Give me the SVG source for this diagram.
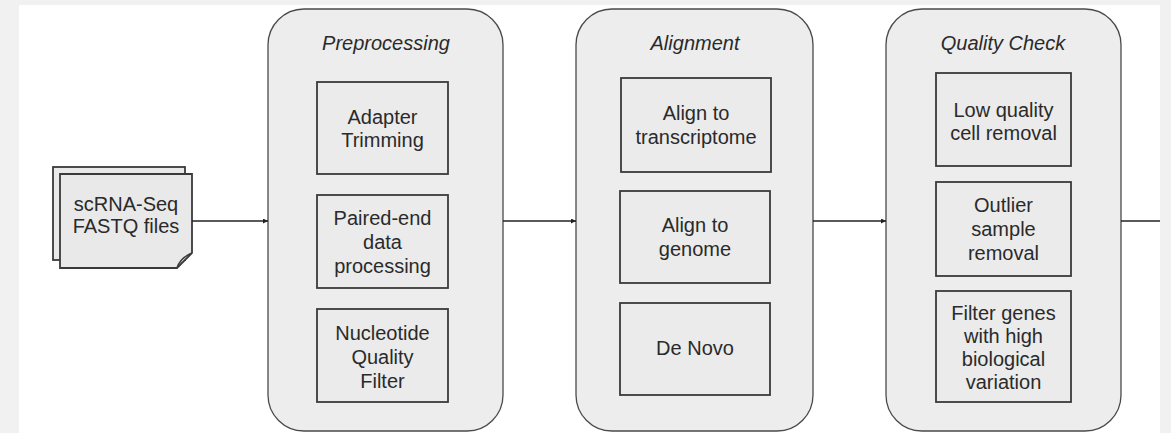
<svg xmlns="http://www.w3.org/2000/svg" width="1171" height="433" viewBox="0 0 1171 433">
<style>
.bg{fill:#f1f1f1}
.panel{fill:#ffffff}
.stage{fill:#ededed;stroke:#4a4a4a;stroke-width:1.3}
.step{fill:#ebebeb;stroke:#3a3a3a;stroke-width:1.8}
.doc{fill:#e9e9e9;stroke:#3a3a3a;stroke-width:1.8}
.t{font-family:"Liberation Sans",Arial,sans-serif;font-size:20px;fill:#2a2a2a;text-anchor:middle}
.title{font-style:italic}
.conn{stroke:#222;stroke-width:1.3;fill:none;marker-end:url(#arr)}
</style>
<defs>
<marker id="arr" viewBox="0 0 10 10" refX="10" refY="5" markerWidth="5" markerHeight="5" orient="auto" markerUnits="userSpaceOnUse">
<path d="M0,0 L10,5 L0,10 z" fill="#222"/>
</marker>
</defs>
<rect class="bg" x="0" y="0" width="1171" height="433"/>
<rect class="panel" x="19" y="5" width="1141" height="428"/>

<g id="input">
<rect class="doc" x="53" y="167" width="132" height="93"/>
<path class="doc" d="M60,174 H192 V253 L177,268 H60 Z"/>
<path d="M177,268 Q180,258 192,253" fill="none" stroke="#3a3a3a" stroke-width="1.5"/>
<text class="t" x="126" y="211">scRNA-Seq</text>
<text class="t" x="126" y="233">FASTQ files</text>
</g>

<g id="preprocessing">
<rect class="stage" x="268" y="9" width="235" height="422" rx="36"/>
<text class="t title" x="386" y="50">Preprocessing</text>
<rect class="step" x="317" y="82" width="131" height="92"/>
<text class="t" x="382.5" y="124">Adapter</text>
<text class="t" x="382.5" y="147">Trimming</text>
<rect class="step" x="317" y="195" width="131" height="93"/>
<text class="t" x="382.5" y="225">Paired-end</text>
<text class="t" x="382.5" y="249">data</text>
<text class="t" x="382.5" y="273">processing</text>
<rect class="step" x="317" y="309" width="131" height="93"/>
<text class="t" x="382.5" y="340">Nucleotide</text>
<text class="t" x="382.5" y="364">Quality</text>
<text class="t" x="382.5" y="388">Filter</text>
</g>

<g id="alignment">
<rect class="stage" x="576" y="9" width="237" height="422" rx="36"/>
<text class="t title" x="695" y="50">Alignment</text>
<rect class="step" x="621" y="78" width="150" height="94"/>
<text class="t" x="696" y="120">Align to</text>
<text class="t" x="696" y="144">transcriptome</text>
<rect class="step" x="620" y="191" width="150" height="92"/>
<text class="t" x="695" y="232">Align to</text>
<text class="t" x="695" y="256">genome</text>
<rect class="step" x="620" y="303" width="150" height="92"/>
<text class="t" x="695" y="355">De Novo</text>
</g>

<g id="quality">
<rect class="stage" x="886" y="9" width="235" height="422" rx="36"/>
<text class="t title" x="1003" y="50">Quality Check</text>
<rect class="step" x="936" y="73" width="135" height="93"/>
<text class="t" x="1003.5" y="117">Low quality</text>
<text class="t" x="1003.5" y="140">cell removal</text>
<rect class="step" x="936" y="182" width="135" height="94"/>
<text class="t" x="1003.5" y="212">Outlier</text>
<text class="t" x="1003.5" y="236">sample</text>
<text class="t" x="1003.5" y="260">removal</text>
<rect class="step" x="936" y="291" width="135" height="111"/>
<text class="t" x="1003.5" y="320">Filter genes</text>
<text class="t" x="1003.5" y="343">with high</text>
<text class="t" x="1003.5" y="366">biological</text>
<text class="t" x="1003.5" y="389">variation</text>
</g>

<g id="connectors">
<line class="conn" x1="192" y1="221" x2="268" y2="221"/>
<line class="conn" x1="503" y1="221" x2="576" y2="221"/>
<line class="conn" x1="813" y1="221" x2="886" y2="221"/>
<line x1="1121" y1="221" x2="1160" y2="221" stroke="#222" stroke-width="1.3"/>
</g>
</svg>
